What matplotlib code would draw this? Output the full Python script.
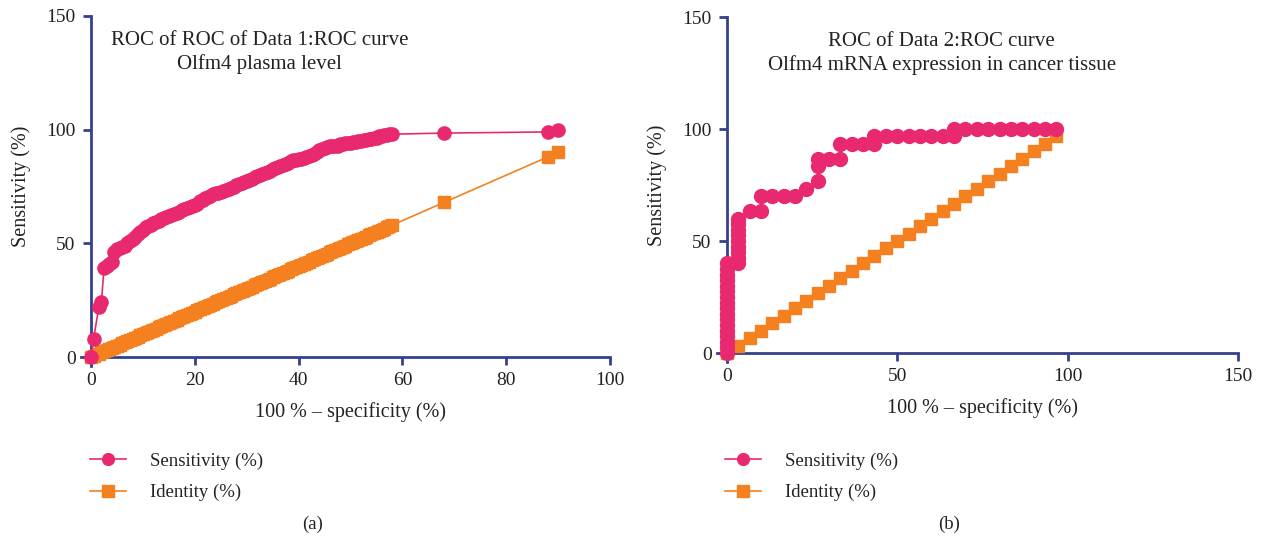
import matplotlib.pyplot as plt
from matplotlib.lines import Line2D

plt.rcParams['font.family'] = ['Liberation Serif', 'DejaVu Serif']

# panel (a): Olfm4 plasma level
fpr1 = [0, 0.5, 1.5, 2, 2.5,
        3, 3.5, 4, 4.5, 5, 5.5, 6, 6.5, 7, 7.5, 8, 8.5, 9, 9.5, 10, 10.5,
        11, 11.5, 12, 12.5, 13, 13.5, 14, 14.5, 15, 15.5, 16, 16.5, 17, 17.5,
        18, 18.5, 19, 19.5, 20, 20.5, 21, 21.5, 22, 22.5, 23, 23.5, 24, 24.5,
        25, 25.5, 26, 26.5, 27, 27.5, 28, 28.5, 29, 29.5, 30, 30.5, 31, 31.5,
        32, 32.5, 33, 33.5, 34, 34.5, 35, 35.5, 36, 36.5, 37, 37.5, 38, 38.5,
        39, 39.5, 40, 40.5, 41, 41.5, 42, 42.5, 43, 43.5, 44, 44.5, 45, 45.5,
        46, 46.5, 47, 47.5, 48, 48.5, 49, 49.5, 50, 50.5, 51, 51.5, 52, 52.5,
        53, 53.5, 54, 54.5, 55, 55.5, 56, 56.5, 57, 57.5, 58, 68, 88, 90]
sens1 = [0, 8, 22, 24, 39,
         40, 41, 42, 46, 47.5, 48, 48.5, 49, 50, 51, 52, 53, 54, 55, 56, 57,
         57.5, 58, 59, 59.5, 60, 60.5, 61, 61.5, 62, 62.5, 63, 63.5, 64, 64.5,
         65, 65.5, 66, 66.5, 67, 67.5, 68.5, 69, 70, 70.5, 71, 71.5, 72, 72,
         72.5, 73, 73.5, 74, 74.5, 75, 75.5, 76, 76.5, 77, 77.5, 78, 78.5, 79,
         79.5, 80, 80.5, 81, 81.5, 82, 82.5, 83, 83.5, 84, 84.5, 85, 85.5, 86,
         86.5, 86.5, 87, 87, 87.5, 88, 88.5, 89, 89.5, 90, 91, 91.5, 92, 92.5,
         93, 93, 93, 93, 93.5, 93.5, 94, 94, 94, 94.5, 94.5, 95, 95, 95.5,
         95.5, 96, 96, 96.5, 96.5, 97, 97, 97.5, 97.5, 98, 98, 98.5, 99, 100]
ident1 = [0, 0.5, 1.5, 2, 2.5,
          3, 3.5, 4, 4.5, 5, 5.5, 6, 6.5, 7, 7.5, 8, 8.5, 9, 9.5, 10, 10.5,
          11, 11.5, 12, 12.5, 13, 13.5, 14, 14.5, 15, 15.5, 16, 16.5, 17, 17.5,
          18, 18.5, 19, 19.5, 20, 20.5, 21, 21.5, 22, 22.5, 23, 23.5, 24, 24.5,
          25, 25.5, 26, 26.5, 27, 27.5, 28, 28.5, 29, 29.5, 30, 30.5, 31, 31.5,
          32, 32.5, 33, 33.5, 34, 34.5, 35, 35.5, 36, 36.5, 37, 37.5, 38, 38.5,
          39, 39.5, 40, 40.5, 41, 41.5, 42, 42.5, 43, 43.5, 44, 44.5, 45, 45.5,
          46, 46.5, 47, 47.5, 48, 48.5, 49, 49.5, 50, 50.5, 51, 51.5, 52, 52.5,
          53, 53.5, 54, 54.5, 55, 55.5, 56, 56.5, 57, 57.5, 58, 68, 88, 90]

# panel (b): Olfm4 mRNA expression in cancer tissue
fpr2 = [0, 0, 0, 0, 0, 0, 0, 0, 0, 0, 0, 0, 0, 0, 0, 0, 0,
        3.3, 3.3, 3.3, 3.3, 3.3, 3.3, 3.3, 3.3, 3.3, 6.7, 10, 10,
        13.3, 16.7, 20, 23.3, 26.7, 26.7, 26.7, 30, 33.3, 33.3, 36.7, 40, 43.3,
        43.3, 46.7, 50, 53.3, 56.7, 60, 63.3, 66.7, 66.7, 70, 73.3, 76.7, 80,
        83.3, 86.7, 90, 93.3, 96.7]
sens2 = [0, 2.5, 5, 7.5, 10, 12.5, 15, 17.5, 20, 22.5, 25, 27.5, 30, 32.5, 35,
         37.5, 40,
         40, 42.5, 45, 47.5, 50, 52.5, 55, 57.5, 60, 63.3, 63.3, 70,
         70, 70, 70, 73.3, 76.7, 83.3, 86.7, 86.7, 86.7, 93.3, 93.3, 93.3, 93.3,
         96.7, 96.7, 96.7, 96.7, 96.7, 96.7, 96.7, 96.7, 100, 100, 100, 100,
         100, 100, 100, 100, 100, 100]
fpr2_id = [0, 3.3, 6.7, 10, 13.3, 16.7, 20, 23.3, 26.7, 30, 33.3, 36.7, 40, 43.3,
           46.7, 50, 53.3, 56.7, 60, 63.3, 66.7, 70, 73.3, 76.7, 80, 83.3, 86.7,
           90, 93.3, 96.7]
ident2 = [0, 3.3, 6.7, 10, 13.3, 16.7, 20, 23.3, 26.7, 30, 33.3, 36.7, 40, 43.3,
          46.7, 50, 53.3, 56.7, 60, 63.3, 66.7, 70, 73.3, 76.7, 80, 83.3, 86.7,
          90, 93.3, 96.7]

pink = '#e8296f'
orange = '#f4801f'
navy = '#34418e'
ink = '#222222'

fig = plt.figure(figsize=(12.66, 5.42), dpi=100)
ax1 = fig.add_axes([0.0719, 0.3413, 0.41, 0.6292])
ax2 = fig.add_axes([0.5742, 0.3487, 0.4037, 0.6199])

panels = [
    (ax1, fpr1, sens1, fpr1, ident1, (0, 100), [0, 20, 40, 60, 80, 100],
     'ROC of ROC of Data 1:ROC curve\nOlfm4 plasma level', 0.325, 9.5, 8.5, 2),
    (ax2, fpr2, sens2, fpr2_id, ident2, (0, 150), [0, 50, 100, 150],
     'ROC of Data 2:ROC curve\nOlfm4 mRNA expression in cancer tissue', 0.42, 10, 8.5, 3),
]

for ax, x, s, xi, yi, xlim, xt, title, tx, ms_s, ms_i, over in panels:
    ax.plot(xi, yi, color=orange, marker='s', ms=ms_i, lw=1.2, clip_on=False, zorder=3)
    ax.plot(x, s, color=pink, marker='o', ms=ms_s, lw=1.2, clip_on=False, zorder=4)
    ax.set_xlim(*xlim)
    ax.set_ylim(0, 150)
    ax.set_xticks(xt)
    ax.set_yticks([0, 50, 100, 150])
    for side in ['top', 'right']:
        ax.spines[side].set_visible(False)
    for side in ['left', 'bottom']:
        ax.spines[side].set_color(navy)
        ax.spines[side].set_linewidth(2)
    # prism-style axes that run a little past the origin
    ax.spines['bottom'].set_bounds(-over, xlim[1])
    ax.spines['left'].set_bounds(-4, 150)
    ax.tick_params(colors=navy, width=2, length=6, labelcolor=ink,
                   labelsize=14, pad=5)
    ax.set_xlabel('100 % – specificity (%)', fontsize=14.5, color=ink, labelpad=9)
    ax.set_ylabel('Sensitivity (%)', fontsize=14.5, color=ink, labelpad=11)
    ax.text(tx, 0.955, title, transform=ax.transAxes, ha='center', va='top',
            fontsize=15, color=ink, linespacing=1.25)

handles = [
    Line2D([], [], color=pink, marker='o', ms=8.5, lw=1.2, label='Sensitivity (%)'),
    Line2D([], [], color=orange, marker='s', ms=8.5, lw=1.2, label='Identity (%)'),
]
for lx in [0.0711, 0.5727]:
    fig.legend(handles=handles, loc='upper left', bbox_to_anchor=(lx, 0.165),
               frameon=False, fontsize=13.5, handlelength=1.9, labelspacing=0.75,
               handletextpad=1.3, borderpad=0, borderaxespad=0, labelcolor=ink)

fig.text(0.247, 0.025, '(a)', ha='center', fontsize=13.5, color=ink)
fig.text(0.750, 0.025, '(b)', ha='center', fontsize=13.5, color=ink)

plt.savefig('out.png', dpi=100)
plt.close(fig)
